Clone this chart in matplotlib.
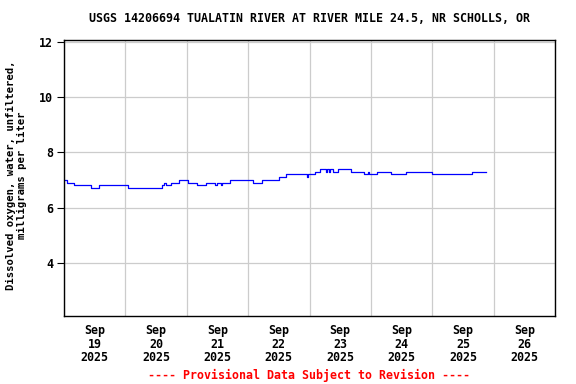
import matplotlib
matplotlib.use("Agg")
import matplotlib.pyplot as plt
import numpy as np
from datetime import datetime, timedelta

title = "USGS 14206694 TUALATIN RIVER AT RIVER MILE 24.5, NR SCHOLLS, OR"
ylabel = "Dissolved oxygen, water, unfiltered,\nmilligrams per liter"
footer = "---- Provisional Data Subject to Revision ----"

# hours since 2025-09-19 00:00 at which value changes (step data)
hours = [0.0, 1.2, 3.9, 10.6, 13.7, 25.0, 38.3, 39.1, 39.9, 41.8, 45.0, 48.5,
         52.0, 55.5, 59.0, 59.8, 61.4, 61.8, 64.9, 73.9, 77.4, 84.0, 86.8,
         95.0, 95.4, 98.1, 100.1, 102.4, 102.8, 103.6, 104.0, 105.2, 107.1,
         112.2, 117.3, 118.8, 119.2, 122.4, 127.8, 133.7, 143.9, 159.5, 165.0]
values = [7.0, 6.9, 6.8, 6.7, 6.8, 6.7, 6.8, 6.9, 6.8, 6.9, 7.0, 6.9,
          6.8, 6.9, 6.8, 6.9, 6.8, 6.9, 7.0, 6.9, 7.0, 7.1, 7.2,
          7.1, 7.2, 7.3, 7.4, 7.3, 7.4, 7.3, 7.4, 7.3, 7.4,
          7.3, 7.2, 7.3, 7.2, 7.3, 7.2, 7.3, 7.2, 7.3, 7.3]

tick_days = [19, 20, 21, 22, 23, 24, 25, 26]
yticks = [4, 6, 8, 10, 12]

start = datetime(2025, 9, 19)
times = [start + timedelta(hours=h) for h in hours]

font = {"family": "DejaVu Sans Mono", "weight": "bold", "size": 8.4}
lfont = {"family": "DejaVu Sans Mono", "weight": "bold", "size": 7.7}

fig = plt.figure(figsize=(5.76, 3.84), dpi=100)
ax = fig.add_axes([64/576, 1-316/384, (555-64)/576, (316-40)/384])

ax.plot(times, values, color="#0000ff", linewidth=0.9, drawstyle="steps-post")

ax.set_xlim(start, start + timedelta(days=8))
ax.set_ylim(2.07, 12.07)

# gridlines at midnight, labels at noon
ax.set_xticks([start + timedelta(days=i) for i in range(9)])
ax.set_xticklabels([])
ax.set_xticks([datetime(2025, 9, d, 12) for d in tick_days], minor=True)
ax.set_xticklabels([f"Sep\n{d}\n2025" for d in tick_days], minor=True,
                   fontdict=font, linespacing=1.05)
ax.tick_params(axis="x", which="both", length=0, pad=6)
ax.set_yticks(yticks)
ax.set_yticklabels([str(v) for v in yticks], fontdict=font)
ax.tick_params(axis="y", length=5, direction="out", width=0.8, pad=3)

ax.grid(True, which="major", color="#cccccc", linewidth=0.9)
ax.set_axisbelow(True)
for s in ax.spines.values():
    s.set_linewidth(1.0)
    s.set_color("black")

fig.text(309.5/576, 1-19/384, title, ha="center", va="center", **font)
fig.text(16.5/576, 1-175/384, ylabel, ha="center", va="center", rotation=90,
         linespacing=1.1, **lfont)
fig.text(309/576, 1-375/384, footer, ha="center", va="center", color="red", **font)

fig.savefig("out.png", dpi=100)
